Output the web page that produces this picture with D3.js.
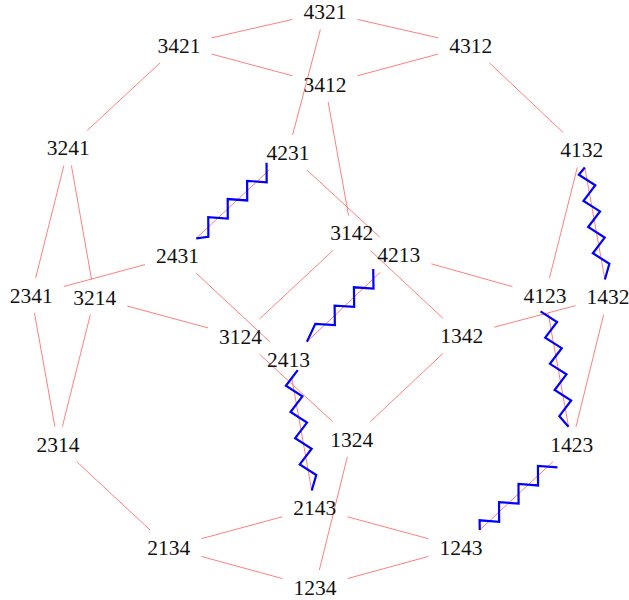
<!doctype html>
<html>
<head>
<script src="https://cdn.jsdelivr.net/npm/d3@7/dist/d3.min.js"></script>
<style>
  body { margin: 0; background: #fff; }
</style>
</head>
<body>
<svg width="629" height="600"></svg>
<script>
// node labels and their positions
var labels = ["4321","3421","4312","3412","3241","4231","4132","3142","4213","2431","2341","3214",
              "4123","1432","3124","1342","2413","2314","1324","1423","2143","2134","1243","1234"];
var xs = [325, 179, 470.8, 325, 68.3, 288, 581.7, 351.7, 398.8, 177.5, 31.3, 94.7,
          545, 608, 240.5, 461.7, 288.5, 58, 351.7, 571.7, 314.8, 168.8, 461, 315];
var ys = [12, 45.3, 45.3, 84.5, 148, 152.5, 150, 233, 254.7, 255.8, 295.3, 297.2,
          295.8, 297, 336.7, 335.8, 359.2, 444.2, 439.2, 444.2, 508, 547.5, 547.5, 587.5];

// red edges (adjacent transpositions)
var edges = [
  ["1234","2134"],["1234","1324"],["1234","1243"],
  ["1243","2143"],["1243","1423"],
  ["1324","3124"],["1324","1342"],
  ["1342","3142"],["1342","1432"],
  ["1423","4123"],["1423","1432"],
  ["1432","4132"],
  ["2134","2314"],["2134","2143"],
  ["2143","2413"],
  ["2314","3214"],["2314","2341"],
  ["2341","3241"],["2341","2431"],
  ["2413","4213"],["2413","2431"],
  ["2431","4231"],
  ["3124","3214"],["3124","3142"],
  ["3142","3412"],
  ["3214","3241"],
  ["3241","3421"],
  ["3412","4312"],["3412","3421"],
  ["3421","4321"],
  ["4123","4213"],["4123","4132"],
  ["4132","4312"],
  ["4213","4231"],
  ["4231","4321"],
  ["4312","4321"]
];

// blue zigzag edges: start, end, first side, first offset, number of teeth
var zigzags = [
  ["2431","4231", 1, 9.9, 8],
  ["2413","4213", -1, 18.3, 7],
  ["1243","1423", -1, 6.5, 8],
  ["4132","1432", 1, 6, 8],
  ["1423","4123", -1, 12, 9],
  ["2143","2413", 1, 14.5, 9]
];

var svg = d3.select("svg"),
    width = +svg.attr("width"),
    height = +svg.attr("height");

var x = d3.scaleLinear().domain([0, 629]).range([0, width]),
    y = d3.scaleLinear().domain([0, 600]).range([0, height]);

var pos = {};
labels.forEach(function(l, i) { pos[l] = [x(xs[i]), y(ys[i])]; });

var hw = 32.5, hh = 17.5; // node box half sizes

// point where the segment a->b leaves the box of a
function clip(a, b) {
  var dx = b[0] - a[0], dy = b[1] - a[1];
  var t = Math.min(dx ? hw / Math.abs(dx) : 1e9, dy ? hh / Math.abs(dy) : 1e9);
  return [a[0] + t * dx, a[1] + t * dy];
}

svg.append("g")
  .selectAll("line")
  .data(edges)
  .enter()
  .append("line")
  .attr("x1", function(d) { return clip(pos[d[0]], pos[d[1]])[0]; })
  .attr("y1", function(d) { return clip(pos[d[0]], pos[d[1]])[1]; })
  .attr("x2", function(d) { return clip(pos[d[1]], pos[d[0]])[0]; })
  .attr("y2", function(d) { return clip(pos[d[1]], pos[d[0]])[1]; })
  .style("stroke", "#ff8080")
  .style("stroke-width", 1);

svg.append("g")
  .selectAll("text")
  .data(labels)
  .enter()
  .append("text")
  .attr("x", function(d) { return pos[d][0]; })
  .attr("y", function(d) { return pos[d][1]; })
  .attr("dy", "0.34em")
  .attr("text-anchor", "middle")
  .style("font-family", "'Liberation Serif', serif")
  .style("font-size", "21.5px")
  .style("fill", "#111")
  .text(function(d) { return d; });

var step = 13.3, amp = 7.2;

function zigzagPoints(d) {
  var a = clip(pos[d[0]], pos[d[1]]),
      b = clip(pos[d[1]], pos[d[0]]);
  var dx = b[0] - a[0], dy = b[1] - a[1];
  var L = Math.sqrt(dx * dx + dy * dy);
  var u = [dx / L, dy / L], p = [-u[1], u[0]];
  var pts = [a], last = 0;
  for (var k = 0; k < d[4]; k++) {
    last = d[3] + k * step;
    var s = d[2] * (k % 2 ? -1 : 1) * amp;
    pts.push([a[0] + last * u[0] + s * p[0], a[1] + last * u[1] + s * p[1]]);
  }
  if (L - last > step / 2) pts.push(b);
  return pts;
}

svg.append("g")
  .selectAll("path")
  .data(zigzags)
  .enter()
  .append("path")
  .attr("d", function(d) { return d3.line()(zigzagPoints(d)); })
  .style("fill", "none")
  .style("stroke", "#0000ff")
  .style("stroke-width", 2.2);
</script>
</body>
</html>
